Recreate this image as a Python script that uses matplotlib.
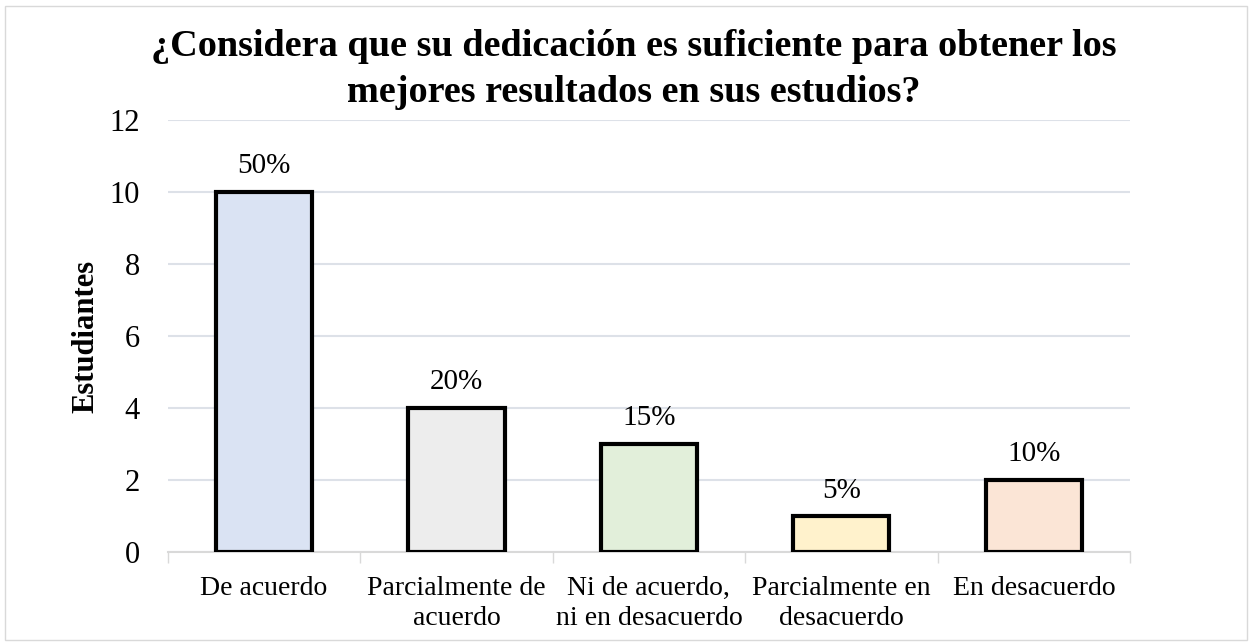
import matplotlib.pyplot as plt
from matplotlib.patches import Rectangle

plt.rcParams['font.family'] = ['Liberation Serif', 'DejaVu Serif']

# datos
categorias = ['De acuerdo', 'Parcialmente de\nacuerdo', 'Ni de acuerdo,\nni en desacuerdo',
              'Parcialmente en\ndesacuerdo', 'En desacuerdo']
estudiantes = [10, 4, 3, 1, 2]
porcentajes = ['50%', '20%', '15%', '5%', '10%']
colores = ['#dae3f3', '#ededed', '#e2efda', '#fff2cc', '#fbe5d6']

fig = plt.figure(figsize=(12.52, 6.43), dpi=100)
ax = fig.add_axes([0.134, 0.1415, 0.7686, 0.672])

x = range(len(categorias))
barras = ax.bar(x, estudiantes, width=0.5, color=colores, edgecolor='black', linewidth=3, zorder=3)

for b, p in zip(barras, porcentajes):
    ax.annotate(p, (b.get_x() + b.get_width() / 2, b.get_height()), xytext=(0, 9),
                textcoords='offset points', ha='center', va='bottom', fontsize=21)

ax.set_xlim(-0.5, 4.5)
ax.set_ylim(0, 12)
ax.set_yticks(range(0, 13, 2))
ax.set_xticks(list(x))
ax.set_xticklabels(categorias, fontsize=20, linespacing=1.3)
ax.tick_params(axis='y', labelsize=22, length=0, pad=20)
ax.tick_params(axis='x', length=0, pad=17)
ax.set_xticks([i + 0.5 for i in range(-1, 5)], minor=True)
ax.tick_params(axis='x', which='minor', length=8, color='#d9d9d9', width=1)

ax.grid(axis='y', color='#dde1e8', linewidth=1.5, zorder=0)
for s in ['top', 'right', 'left']:
    ax.spines[s].set_visible(False)
ax.spines['bottom'].set_color('#d9d9d9')
ax.spines['bottom'].set_linewidth(1.5)

ax.set_ylabel('Estudiantes', fontsize=22, fontweight='bold')
ax.yaxis.set_label_coords(-0.07, 0.5)
fig.text(0.506, 0.955, '¿Considera que su dedicación es suficiente para obtener los\nmejores resultados en sus estudios?',
         ha='center', va='top', fontsize=27.5, fontweight='bold', linespacing=1.4)

fig.patches.append(Rectangle((0.004, 0.004), 0.992, 0.986, transform=fig.transFigure,
                             fill=False, edgecolor='#d9d9d9', linewidth=1))

plt.savefig('out.png', dpi=100)
